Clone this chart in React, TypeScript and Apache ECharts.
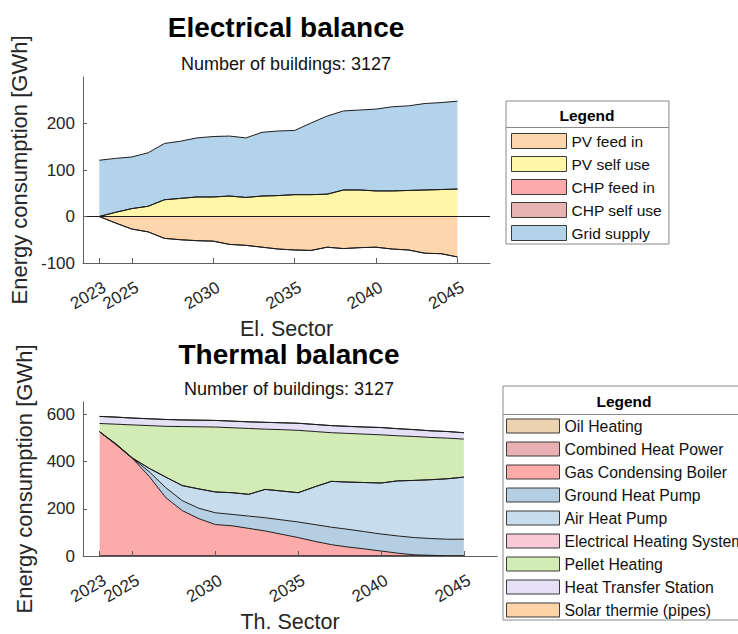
import React, { useEffect, useRef } from "react";
import * as echarts from "echarts";

const axisYears = [2022, 2023, 2024, 2025, 2026, 2027, 2028, 2029, 2030, 2031, 2032, 2033, 2034, 2035, 2036, 2037, 2038, 2039, 2040, 2041, 2042, 2043, 2044, 2045, 2046, 2047];
const years = [2023, 2024, 2025, 2026, 2027, 2028, 2029, 2030, 2031, 2032, 2033, 2034, 2035, 2036, 2037, 2038, 2039, 2040, 2041, 2042, 2043, 2044, 2045];
const tickYears = [2023, 2025, 2030, 2035, 2040, 2045];
const elTicks = [-100, 0, 100, 200];
const thTicks = [0, 200, 400, 600];

// Electrical balance (GWh)
const elNames = ["PV feed in", "PV self use", "CHP feed in", "CHP self use", "Grid supply"];
const pvFeedIn = [0, -14, -27, -33, -47, -50, -52, -53, -60, -62, -66, -70, -72, -73, -66, -69, -67, -66, -70, -72, -79, -80, -87];
const pvSelfUse = [0, 9, 17, 22, 36, 39, 42, 42, 44, 41, 44, 45, 47, 47, 48, 57, 57, 55, 55, 56, 57, 58, 59];
const chpFeedIn = [0, 0, 0, 0, 0, 0, 0, 0, 0, 0, 0, 0, 0, 0, 0, 0, 0, 0, 0, 0, 0, 0, 0];
const chpSelfUse = [0, 0, 0, 0, 0, 0, 0, 0, 0, 0, 0, 0, 0, 0, 0, 0, 0, 0, 0, 0, 0, 0, 0];
const gridSupply = [121, 116, 111, 115, 121, 123, 127, 130, 129, 128, 137, 139, 138, 154, 168, 170, 172, 176, 181, 182, 186, 187, 189];

// Thermal balance (GWh)
const thNames = ["Oil Heating", "Combined Heat Power", "Gas Condensing Boiler", "Ground Heat Pump", "Air Heat Pump", "Electrical Heating System", "Pellet Heating", "Heat Transfer Station", "Solar thermie (pipes)"];
const oilHeating = [0, 0, 0, 0, 0, 0, 0, 0, 0, 0, 0, 0, 0, 0, 0, 0, 0, 0, 0, 0, 0, 0, 0];
const combinedHeatPower = [0, 0, 0, 0, 0, 0, 0, 0, 0, 0, 0, 0, 0, 0, 0, 0, 0, 0, 0, 0, 0, 0, 0];
const gasBoiler = [526, 471, 412, 337, 247, 192, 158, 133, 128, 117, 106, 92, 78, 62, 48, 38, 30, 21, 12, 5, 3, 0, 0];
const groundHeatPump = [0, 1, 1, 20, 42, 42, 44, 50, 48, 52, 56, 61, 66, 71, 74, 75, 73, 72, 73, 73, 71, 71, 71];
const airHeatPump = [0, 2, 1, 14, 45, 64, 82, 88, 92, 92, 120, 122, 124, 160, 194, 200, 208, 216, 233, 242, 249, 256, 263];
const electricalHeating = [0, 0, 0, 0, 0, 0, 0, 0, 0, 0, 0, 0, 0, 0, 0, 0, 0, 0, 0, 0, 0, 0, 0];
const pelletHeating = [35, 84, 141, 181, 215, 250, 263, 275, 275, 279, 255, 260, 264, 234, 206, 206, 205, 204, 191, 186, 179, 172, 161];
const heatTransfer = [30, 30, 29, 29, 29, 28, 28, 28, 28, 28, 29, 29, 30, 30, 30, 30, 30, 31, 30, 29, 28, 28, 27];
const solarThermie = [0, 0, 0, 0, 0, 0, 0, 0, 0, 0, 0, 0, 0, 0, 0, 0, 0, 0, 0, 0, 0, 0, 0];

const elValues = [pvFeedIn, pvSelfUse, chpFeedIn, chpSelfUse, gridSupply];
const elStacks = ["neg", "pos", "neg", "pos", "pos"];
const elColors = ["#fdd6ae", "#fef6a8", "#fdaaaa", "#e8b3b3", "#b2d3ea"];

const thValues = [oilHeating, combinedHeatPower, gasBoiler, groundHeatPump, airHeatPump, electricalHeating, pelletHeating, heatTransfer, solarThermie];
const thColors = ["#ecd2b0", "#e8b0b2", "#fcaaaa", "#b6cee2", "#c7ddee", "#f8c9d6", "#d3ebb5", "#e5e0f6", "#fcd4a8"];

const FONT = '"Liberation Sans", Arial, Helvetica, sans-serif';
const AXIS_COLOR = "#5e5e5e";
const LABEL_COLOR = "#262626";

const isTickYear = (_i: number, v: string) => tickYears.indexOf(Number(v)) >= 0;

function alignToAxis(arr: number[]) {
  return axisYears.map((y) => {
    const k = years.indexOf(y);
    return k >= 0 ? arr[k] : null;
  });
}

function xAxisFor(gridIndex: number, name: string) {
  return {
    type: "category",
    gridIndex,
    data: axisYears.map(String),
    boundaryGap: false,
    name,
    nameLocation: "middle",
    nameGap: 55,
    nameTextStyle: { fontSize: 21.5, color: LABEL_COLOR, fontFamily: FONT },
    axisLine: { show: true, onZero: false, lineStyle: { color: AXIS_COLOR, width: 1 } },
    axisTick: { show: true, inside: true, length: 5, interval: isTickYear, lineStyle: { color: AXIS_COLOR } },
    axisLabel: {
      interval: 0,
      hideOverlap: false,
      rotate: 30,
      margin: 14,
      verticalAlign: "top",
      lineHeight: 21,
      fontSize: 17,
      color: LABEL_COLOR,
      fontFamily: FONT,
      formatter: (v: string) => (tickYears.indexOf(Number(v)) >= 0 ? v : ""),
    },
    splitLine: { show: false },
    z: 10,
  };
}

function yAxisFor(gridIndex: number, min: number, max: number, interval: number, ticks: number[]) {
  return {
    type: "value",
    gridIndex,
    min,
    max,
    interval,
    name: "Energy consumption [GWh]",
    nameLocation: "middle",
    nameGap: 33,
    nameRotate: 90,
    nameTextStyle: { fontSize: 22, color: LABEL_COLOR, fontFamily: FONT },
    axisLine: { show: true, lineStyle: { color: AXIS_COLOR, width: 1 } },
    axisTick: { show: true, inside: true, length: 4, lineStyle: { color: AXIS_COLOR } },
    axisLabel: {
      hideOverlap: false,
      showMaxLabel: false,
      margin: 8,
      fontSize: 17,
      color: LABEL_COLOR,
      fontFamily: FONT,
      formatter: (v: number) => (ticks.indexOf(v) >= 0 ? String(v) : ""),
    },
    splitLine: { show: false },
    z: 10,
  };
}

export default function App() {
  const ref = useRef<HTMLDivElement>(null);

  useEffect(() => {
    document.body.style.margin = "0";
    if (!ref.current) return;
    const chart = echarts.init(ref.current, null, { renderer: "svg" });

    const elSeries = elNames.map((name, i) => ({
      name,
      type: "line",
      xAxisIndex: 0,
      yAxisIndex: 0,
      stack: elStacks[i],
      stackStrategy: "all",
      symbol: "none",
      showSymbol: false,
      color: elColors[i],
      itemStyle: { color: elColors[i] },
      lineStyle: { color: "#1e1e1e", width: 1 },
      areaStyle: { color: elColors[i], opacity: 1 },
      data: alignToAxis(elValues[i]),
      ...(i === 1
        ? {
            markLine: {
              silent: true,
              symbol: ["none", "none"],
              label: { show: false },
              lineStyle: { color: "#1e1e1e", width: 1, type: "solid" },
              data: [{ yAxis: 0 }],
            },
          }
        : {}),
    }));

    const thSeries = thNames.map((name, i) => ({
      name,
      type: "line",
      xAxisIndex: 1,
      yAxisIndex: 1,
      stack: "th",
      stackStrategy: "all",
      symbol: "none",
      showSymbol: false,
      color: thColors[i],
      itemStyle: { color: thColors[i] },
      lineStyle: { color: "#1e1e1e", width: 1 },
      areaStyle: { color: thColors[i], opacity: 1 },
      data: alignToAxis(thValues[i]),
    }));

    const legendCommon = {
      orient: "vertical",
      icon: "rect",
      selectedMode: false,
      backgroundColor: "#ffffff",
      borderColor: "#8a8a8a",
      borderWidth: 1,
      itemGap: 7,
      itemStyle: { borderColor: "#3a3a3a", borderWidth: 1 },
    };

    const option = {
      animation: false,
      textStyle: { fontFamily: FONT },
      grid: [
        { left: 83, top: 77, width: 407, height: 186 },
        { left: 83, top: 402, width: 414, height: 158 },
      ],
      xAxis: [xAxisFor(0, "El. Sector"), xAxisFor(1, "Th. Sector")],
      yAxis: [yAxisFor(0, -100, 300, 100, elTicks), yAxisFor(1, 0, 652, 200, thTicks)],
      legend: [
        {
          ...legendCommon,
          data: elNames,
          left: 506,
          top: 101,
          padding: [32, 7, 3, 5],
          itemWidth: 55,
          itemHeight: 15,
          textStyle: { fontSize: 15.5, color: "#111", fontFamily: FONT },
        },
        {
          ...legendCommon,
          data: thNames,
          left: 503,
          top: 386,
          padding: [32, 5, 2, 3],
          itemWidth: 53,
          itemHeight: 14,
          textStyle: { fontSize: 15.8, color: "#111", fontFamily: FONT },
        },
      ],
      graphic: [
        { type: "text", x: 286, y: 27, style: { text: "Electrical balance", fontSize: 28, fontWeight: "bold", fontFamily: FONT, fill: "#000", textAlign: "center", textVerticalAlign: "middle" } },
        { type: "text", x: 286, y: 64, style: { text: "Number of buildings: 3127", fontSize: 18, fontFamily: FONT, fill: "#111", textAlign: "center", textVerticalAlign: "middle" } },
        { type: "text", x: 289, y: 354, style: { text: "Thermal balance", fontSize: 28, fontWeight: "bold", fontFamily: FONT, fill: "#000", textAlign: "center", textVerticalAlign: "middle" } },
        { type: "text", x: 289, y: 389, style: { text: "Number of buildings: 3127", fontSize: 18, fontFamily: FONT, fill: "#111", textAlign: "center", textVerticalAlign: "middle" } },
        { type: "text", x: 587, y: 115, z: 100, style: { text: "Legend", fontSize: 15.5, fontWeight: "bold", fontFamily: FONT, fill: "#000", textAlign: "center", textVerticalAlign: "middle" } },
        { type: "line", z: 100, shape: { x1: 506, y1: 127.5, x2: 669, y2: 127.5 }, style: { stroke: "#8a8a8a", lineWidth: 1 } },
        { type: "text", x: 624, y: 401, z: 100, style: { text: "Legend", fontSize: 15.5, fontWeight: "bold", fontFamily: FONT, fill: "#000", textAlign: "center", textVerticalAlign: "middle" } },
        { type: "line", z: 100, shape: { x1: 503, y1: 414.5, x2: 738, y2: 414.5 }, style: { stroke: "#8a8a8a", lineWidth: 1 } },
      ],
      series: [...elSeries, ...thSeries],
    };

    chart.setOption(option as any);
    return () => {
      chart.dispose();
    };
  }, []);

  return <div ref={ref} style={{ width: 738, height: 634 }} />;
}
